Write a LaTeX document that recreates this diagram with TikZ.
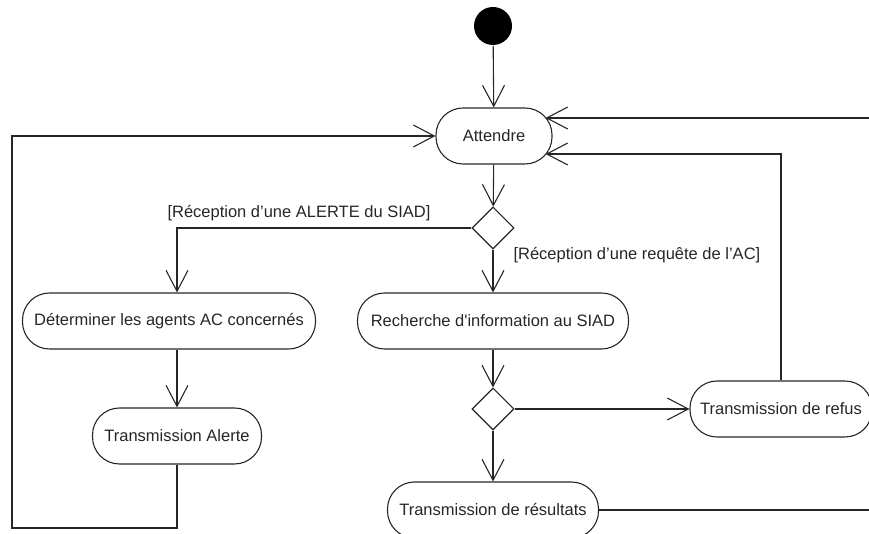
\documentclass[tikz,border=0pt]{standalone}
\usepackage{fontspec}
\setmainfont{Liberation Sans}
\usetikzlibrary{arrows.meta,shapes.geometric,calc}

\begin{document}
\begin{tikzpicture}[x=1pt,y=1pt,line width=1.1pt,color=black!85,
    act/.style={draw,rounded corners=27pt,minimum height=56pt,inner sep=0pt,
                font=\fontsize{16.5}{20}\selectfont},
    dec/.style={draw,diamond,minimum width=42pt,minimum height=42pt,inner sep=0pt},
    guard/.style={inner sep=0pt,font=\fontsize{16.5}{20}\selectfont},
    flow/.style={-{Straight Barb[length=21pt,width=22pt]}}]
  \clip (0,0) rectangle (869,534);

  % noeuds de l'activite
  \node[circle,fill=black,minimum size=38pt,inner sep=0pt] (debut) at (493,508) {};
  \node[act,minimum width=116pt] (attendre) at (494,398) {Attendre};
  \node[dec] (choix) at (493,306) {};
  \node[act,minimum width=293pt] (determiner) at (169,213) {Déterminer les agents AC concernés};
  \node[act,minimum width=271pt] (recherche) at (493,213) {Recherche d\textquotesingle information au SIAD};
  \node[act,minimum width=169pt] (alerte) at (177,98) {Transmission Alerte};
  \node[dec] (test) at (493,125) {};
  \node[act,minimum width=182pt] (refus) at (781,125) {Transmission de refus};
  \node[act,minimum width=211pt] (resultats) at (493,24) {Transmission de résultats};

  % gardes
  \node[guard,anchor=east] (gAlerte) at (431,321) {[Réception d’une ALERTE du SIAD]};
  \node[guard,anchor=west] (gRequete) at (513,279) {[Réception d’une requête de l’AC]};

  % coins des boucles de retour
  \coordinate (bas) at (12,6);
  \coordinate (droite) at (885,0);

  \draw[flow] (debut) -- (attendre);
  \draw[flow] (attendre) -- (choix);
  \draw[flow] (choix.west) -| ([xshift=8pt]determiner.north);
  \draw[flow] (choix) -- (recherche);
  \draw[flow] ([xshift=8pt]determiner.south) -- (alerte);
  \draw[flow] (recherche) -- (test);
  \draw[flow] (test) -- (refus);
  \draw[flow] (test) -- (resultats);

  % retours vers Attendre
  \draw[flow] (alerte.south) |- (bas) |- (attendre.west);
  \draw[flow] (refus.north) |- ($(attendre.east)+(-7,-18)$);
  \draw[flow] (resultats.east) -- (resultats.east -| droite)
        |- ($(attendre.east)+(-7,18)$);
\end{tikzpicture}
\end{document}
